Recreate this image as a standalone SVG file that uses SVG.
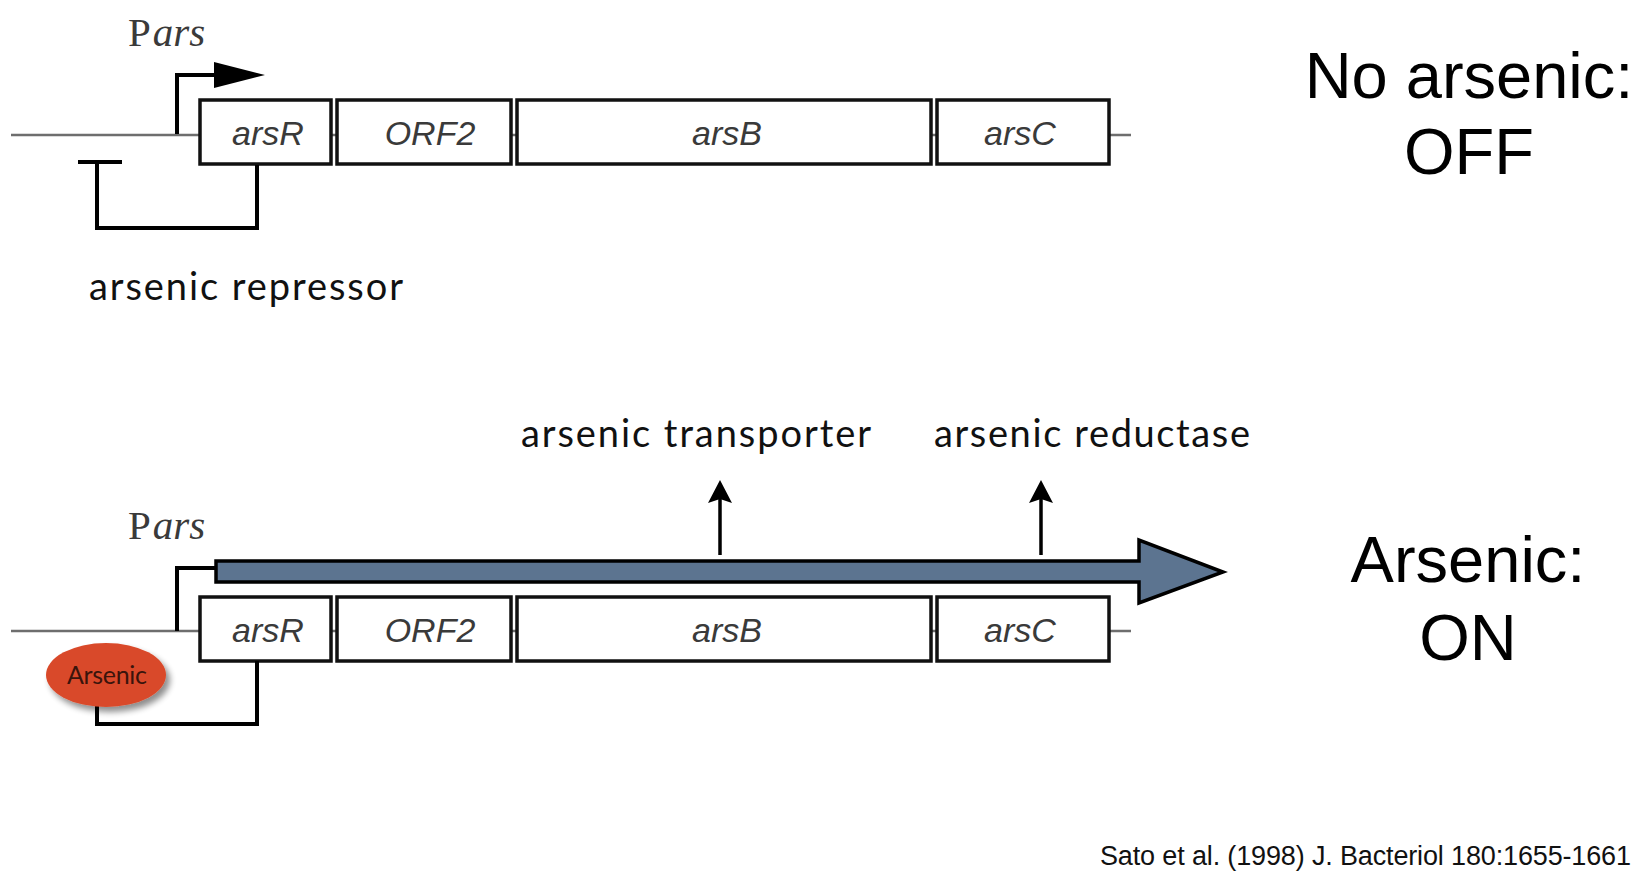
<svg xmlns="http://www.w3.org/2000/svg" width="1650" height="880" viewBox="0 0 1650 880">
<defs>
<style>
.dna{stroke:#6e6e6e;stroke-width:2.5;fill:none}
.box{fill:#fff;stroke:#111;stroke-width:3.5}
.gene{font-family:"Liberation Sans",Arial,sans-serif;font-style:italic;font-size:34px;fill:#3a3a3a;text-anchor:middle}
.pars{font-family:"Liberation Serif","Times New Roman",serif;font-size:41px;fill:#3a3a3a}
.line{stroke:#000;stroke-width:4;fill:none}
.lbl{font-family:Lato,"Open Sans",sans-serif;font-size:38px;fill:#111}
.big{font-family:"Liberation Sans",Arial,sans-serif;font-size:65px;fill:#000;text-anchor:middle}
</style>
<filter id="sh" x="-30%" y="-30%" width="170%" height="170%">
<feGaussianBlur in="SourceAlpha" stdDeviation="3"/>
<feOffset dx="4" dy="5" result="o"/>
<feComponentTransfer><feFuncA type="linear" slope="0.45"/></feComponentTransfer>
<feMerge><feMergeNode/><feMergeNode in="SourceGraphic"/></feMerge>
</filter>
</defs>
<rect width="1650" height="880" fill="#fff"/>

<!-- TOP: No arsenic -->
<g id="top-operon">
<line class="dna" x1="11" y1="135" x2="1131" y2="135"/>
<g id="top-arsR"><rect class="box" x="200" y="100" width="131" height="64"/><text class="gene" x="268" y="145">arsR</text></g>
<g id="top-ORF2"><rect class="box" x="337" y="100" width="174" height="64"/><text class="gene" x="430" y="145">ORF2</text></g>
<g id="top-arsB"><rect class="box" x="517" y="100" width="414" height="64"/><text class="gene" x="727" y="145">arsB</text></g>
<g id="top-arsC"><rect class="box" x="937" y="100" width="172" height="64"/><text class="gene" x="1020" y="145">arsC</text></g>
</g>
<g id="top-promoter">
<text class="pars" x="128" y="46">P<tspan font-style="italic" dx="2">ars</tspan></text>
<polyline class="line" points="177,134 177,75 216,75"/>
<polygon points="214,62 265,75 214,88" fill="#000"/>
</g>
<g id="top-repression">
<polyline class="line" points="257,165 257,228 97,228 97,162"/>
<line class="line" x1="78" y1="162" x2="122" y2="162"/>
<text class="lbl" x="89" y="300" textLength="314">arsenic repressor</text>
</g>
<g id="label-off">
<text class="big" x="1469" y="98">No arsenic:</text>
<text class="big" x="1469" y="174">OFF</text>
</g>

<!-- BOTTOM: Arsenic -->
<g id="bottom-operon">
<line class="dna" x1="11" y1="631" x2="1131" y2="631"/>
<g id="bot-arsR"><rect class="box" x="200" y="597" width="131" height="64"/><text class="gene" x="268" y="642">arsR</text></g>
<g id="bot-ORF2"><rect class="box" x="337" y="597" width="174" height="64"/><text class="gene" x="430" y="642">ORF2</text></g>
<g id="bot-arsB"><rect class="box" x="517" y="597" width="414" height="64"/><text class="gene" x="727" y="642">arsB</text></g>
<g id="bot-arsC"><rect class="box" x="937" y="597" width="172" height="64"/><text class="gene" x="1020" y="642">arsC</text></g>
</g>
<g id="bottom-promoter">
<text class="pars" x="128" y="539">P<tspan font-style="italic" dx="2">ars</tspan></text>
<polyline class="line" points="177,631 177,568 216,568"/>
</g>
<g id="connectors">
<polyline class="line" points="257,661 257,724 97,724 97,690"/>
<line x1="720" y1="555" x2="720" y2="498" stroke="#000" stroke-width="3.5"/>
<polygon points="720,480 732,503 720,499 708,503" fill="#000"/>
<line x1="1041" y1="555" x2="1041" y2="498" stroke="#000" stroke-width="3.5"/>
<polygon points="1041,480 1053,503 1041,499 1029,503" fill="#000"/>
</g>
<g id="transcript">
<polygon points="216,561 1139,561 1139,540 1223,572 1139,603 1139,582 216,582" fill="#5c7490" stroke="#000" stroke-width="3.5" stroke-linejoin="miter"/>
</g>
<g id="arsenic">
<ellipse cx="106" cy="675" rx="60" ry="32" fill="#d94a2a" filter="url(#sh)"/>
<text x="67" y="684" textLength="80" font-family="Lato,'Open Sans',sans-serif" font-size="25" fill="#3a140c">Arsenic</text>
</g>
<g id="protein-labels">
<text class="lbl" x="521" y="447" textLength="350">arsenic transporter</text>
<text class="lbl" x="934" y="447" textLength="316">arsenic reductase</text>
</g>
<g id="label-on">
<text class="big" x="1468" y="582">Arsenic:</text>
<text class="big" x="1468" y="660">ON</text>
</g>
<text id="citation" x="1631" y="865" text-anchor="end" font-family="'Liberation Sans',Arial,sans-serif" font-size="27" fill="#111" textLength="531">Sato et al. (1998) J. Bacteriol 180:1655-1661</text>
</svg>
